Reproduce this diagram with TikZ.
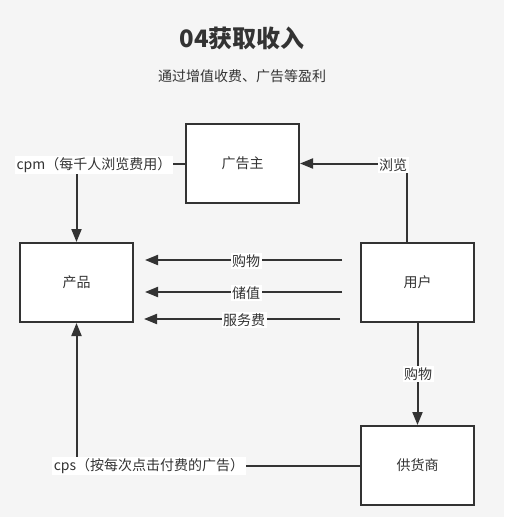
\documentclass[tikz,border=0pt]{standalone}
\usepackage{fontspec}
\setmainfont{Noto Sans CJK SC}
\usetikzlibrary{arrows.meta}
\definecolor{ink}{HTML}{333333}
\definecolor{paper}{HTML}{F5F5F5}
\tikzset{>={Triangle[length=13pt,width=10pt]}}
\tikzset{box/.style = {shape=rectangle,draw=ink,fill=white,line width=2pt,minimum width=113pt,minimum height=79pt,inner sep=0pt,font=\fontsize{14pt}{16pt}\selectfont,text=ink}}
\tikzset{lbl/.style = {fill=white,inner sep=1.5pt,font=\fontsize{14pt}{16pt}\selectfont,text=ink}}
\tikzset{arr/.style = {->,draw=ink,line width=2pt}}
\begin{document}
\begin{tikzpicture}[x=1pt,y=-1pt]
                \fill[paper] (0,0) rectangle (504,517);
                \useasboundingbox (0,0) rectangle (504,517);

                \node[text=ink,font=\fontsize{24pt}{28pt}\selectfont\bfseries] (title) at (242,38) {04获取收入};
                \node[text=ink,font=\fontsize{14pt}{16pt}\selectfont] (sub) at (242,76) {通过增值收费、广告等盈利};

                \node[box] (adv) at (242.5,163.5) {广告主};
                \node[box] (prod) at (76.5,282.5) {产品};
                \node[box] (usr) at (417.5,282.5) {用户};
                \node[box] (sup) at (417.5,465.5) {供货商};

                \coordinate (usrtop) at (407,243);
                \coordinate (buyA) at (342,260);
                \coordinate (buyB) at (145,260);
                \coordinate (saveA) at (342,292);
                \coordinate (saveB) at (145,292);
                \coordinate (feeA) at (340,319);
                \coordinate (feeB) at (144,319);

                \draw[arr] (adv.west) -| (prod.north);
                \draw[arr] (usrtop) |- (adv.east);
                \draw[arr] (buyA) -- (buyB);
                \draw[arr] (saveA) -- (saveB);
                \draw[arr] (feeA) -- (feeB);
                \draw[arr] (usr.south) -- (sup.north);
                \draw[arr] (sup.west) -| (prod.south);

                \node[lbl] (cpm) at (94,165) {cpm（每千人浏览费用）};
                \node[lbl] (view) at (393,165) {浏览};
                \node[lbl] (buy) at (246,261) {购物};
                \node[lbl] (save) at (246,293) {储值};
                \node[lbl] (fee) at (244,320) {服务费};
                \node[lbl] (buy2) at (418,374) {购物};
                \node[lbl] (cps) at (149,466) {cps（按每次点击付费的广告）};
            \end{tikzpicture}
\end{document}
